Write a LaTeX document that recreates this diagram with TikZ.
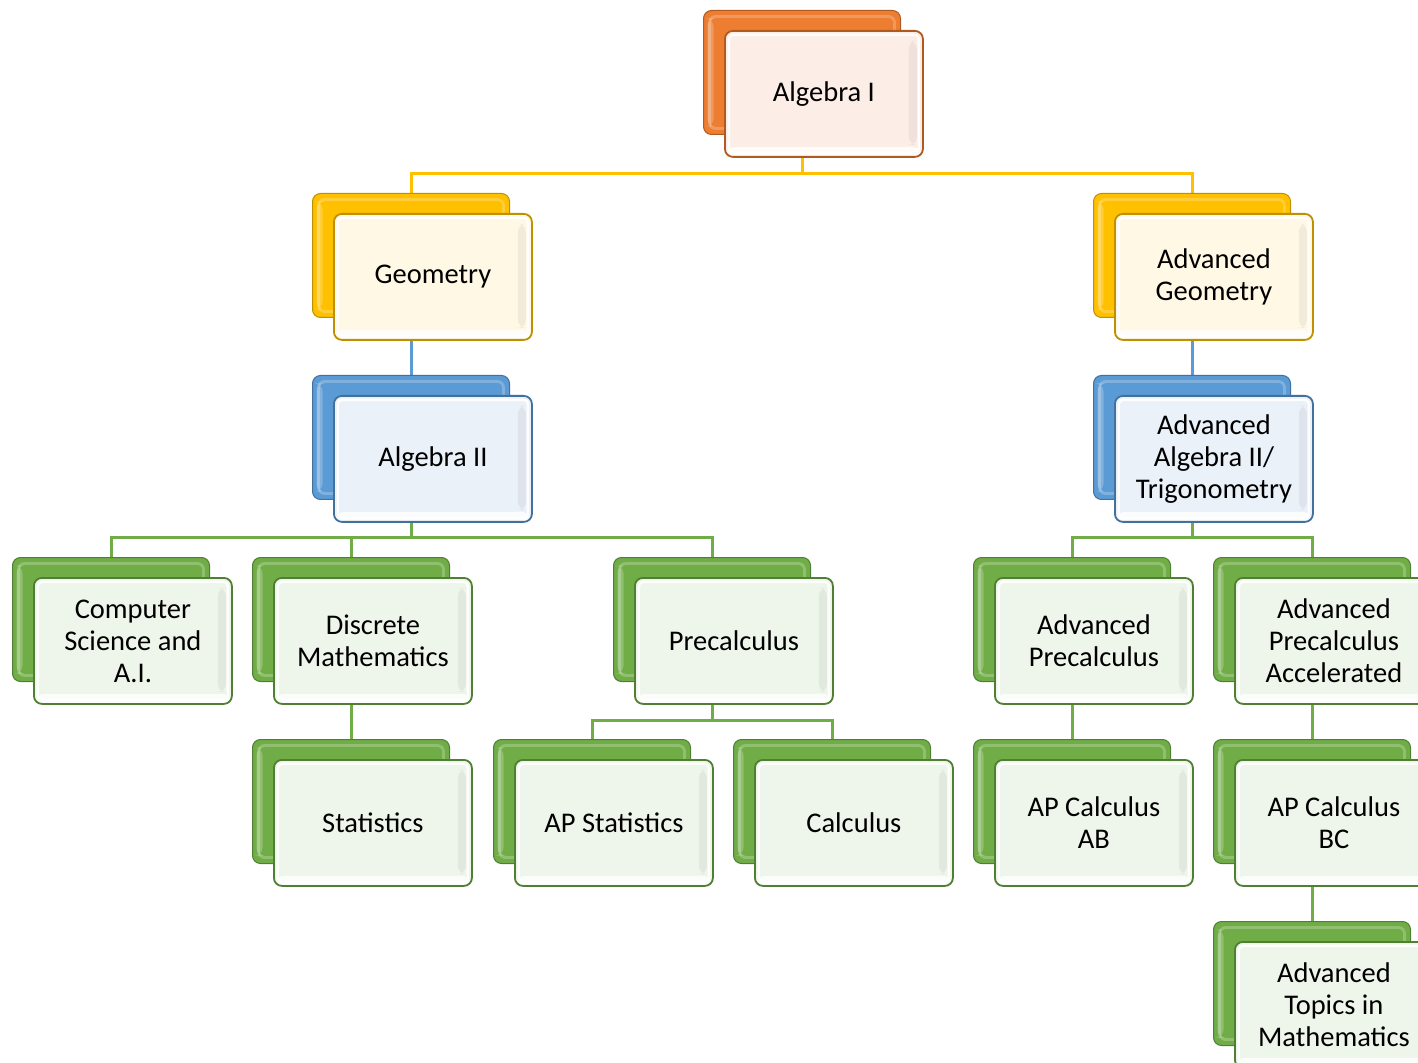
\documentclass[tikz,border=0pt]{standalone}
\usepackage{fontspec}
\setmainfont{Carlito}
\pgfdeclarelayer{bg}
\pgfsetlayers{bg,main}
\definecolor{orA}{HTML}{ED7D31}\definecolor{orL}{HTML}{FCEEE7}\definecolor{orD}{HTML}{AE5A21}
\definecolor{gdA}{HTML}{FFC000}\definecolor{gdL}{HTML}{FFF8E5}\definecolor{gdD}{HTML}{BF9000}
\definecolor{blA}{HTML}{5B9BD5}\definecolor{blL}{HTML}{EBF1F9}\definecolor{blD}{HTML}{41719C}
\definecolor{grA}{HTML}{70AD47}\definecolor{grL}{HTML}{EEF5EA}\definecolor{grD}{HTML}{507E32}
\tikzset{
  backbox/.style={rectangle, rounded corners=4pt, minimum width=98.5pt, minimum height=62pt,
    anchor=north west, inner sep=0pt, draw=#1D, line width=0.5pt, fill=#1A,
    path picture={
      \draw[white, opacity=0.22, line width=1.4pt, rounded corners=3pt]
        ([shift={(3pt,-3pt)}]path picture bounding box.north west) rectangle
        ([shift={(-3pt,3pt)}]path picture bounding box.south east);
      \fill[white, opacity=0.22] ([shift={(2pt,-4pt)}]path picture bounding box.north west) rectangle
        ([shift={(5pt,4pt)}]path picture bounding box.south west);
    }},
  frontbox/.style={rectangle, rounded corners=4pt, minimum width=99pt, minimum height=63pt,
    anchor=north west, inner sep=2pt, align=center, draw=#1D, line width=0.9pt, fill=#1L,
    font=\fontsize{14.25}{16}\selectfont,
    path picture={
      \fill[white, opacity=0.8] ([shift={(1pt,5pt)}]path picture bounding box.south west) rectangle
        ([shift={(-1pt,0pt)}]path picture bounding box.south east);
      \fill[black, opacity=0.05] ([shift={(-7pt,-5pt)}]path picture bounding box.north east) rectangle
        ([shift={(-3pt,6pt)}]path picture bounding box.south east);
      \draw[white, opacity=0.9, line width=1.2pt, rounded corners=2pt]
        ([shift={(2pt,-2pt)}]path picture bounding box.north west) rectangle
        ([shift={(-2pt,2pt)}]path picture bounding box.south east);
    }},
  link/.style={line width=1.5pt, color=#1}
}
\newcommand\pairbox[5]{%
  \node[backbox=#4] (#1b) at (#2,#3) {};
  \node[frontbox=#4] (#1) at (#2+21,#3+20) {#5};
}
\begin{document}
\begin{tikzpicture}[x=0.5pt,y=-0.5pt]
\useasboundingbox (0,0) rectangle (1418,1063);
\clip (0,0) rectangle (1418,1063);
\pairbox{A1}{703}{10}{or}{Algebra I}
\pairbox{Geo}{312}{193}{gd}{Geometry}
\pairbox{AGeo}{1093}{193}{gd}{Advanced\\Geometry}
\pairbox{A2}{312}{375}{bl}{Algebra II}
\pairbox{AA2}{1093}{375}{bl}{Advanced\\Algebra II/\\Trigonometry}
\pairbox{CS}{12}{557}{gr}{Computer\\Science and\\A.I.}
\pairbox{DM}{252}{557}{gr}{Discrete\\Mathematics}
\pairbox{PC}{613}{557}{gr}{Precalculus}
\pairbox{APC}{973}{557}{gr}{Advanced\\Precalculus}
\pairbox{APCA}{1213}{557}{gr}{Advanced\\Precalculus\\Accelerated}
\pairbox{ST}{252}{739}{gr}{Statistics}
\pairbox{APS}{493}{739}{gr}{AP Statistics}
\pairbox{CA}{733}{739}{gr}{Calculus}
\pairbox{AB}{973}{739}{gr}{AP Calculus\\AB}
\pairbox{BC}{1213}{739}{gr}{AP Calculus\\BC}
\pairbox{ATM}{1213}{921}{gr}{Advanced\\Topics in\\Mathematics}
\begin{pgfonlayer}{bg}
  \foreach \p/\c/\k in {A1/Geo/gdA, A1/AGeo/gdA, Geo/A2/blA, AGeo/AA2/blA,
      A2/CS/grA, A2/DM/grA, A2/PC/grA, AA2/APC/grA, AA2/APCA/grA,
      DM/ST/grA, PC/APS/grA, PC/CA/grA, APC/AB/grA, APCA/BC/grA, BC/ATM/grA}
    \draw[link=\k] (\p b.south) |- ([yshift=9.5pt]\c b.north) -- (\c b.north);
\end{pgfonlayer}
\end{tikzpicture}
\end{document}
